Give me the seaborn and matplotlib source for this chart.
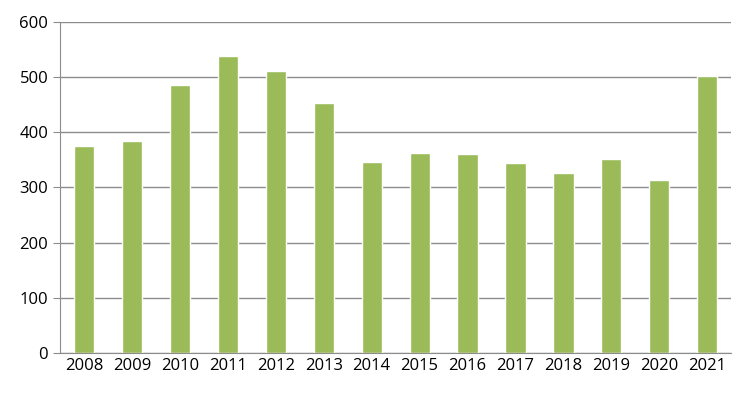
import matplotlib
matplotlib.use("Agg")
import matplotlib.pyplot as plt
import seaborn as sns

years = ["2008", "2009", "2010", "2011", "2012", "2013", "2014",
         "2015", "2016", "2017", "2018", "2019", "2020", "2021"]
values = [375, 385, 485, 538, 511, 453, 347, 363, 360, 344, 327, 351, 313, 502]

sns.set_style("white")
plt.rcParams["font.family"] = ["Open Sans", "DejaVu Sans"]

fig, ax = plt.subplots(figsize=(7.5, 4.01), dpi=100)
fig.subplots_adjust(left=0.08, right=0.975, top=0.945, bottom=0.12)
sns.barplot(x=years, y=values, color="#9BBB59", saturation=1, width=0.42, ax=ax, zorder=2)

ax.set_ylim(0, 600)
ax.set_yticks(range(0, 601, 100))
ax.yaxis.grid(True, color="#8c8c8c", linewidth=1, zorder=0)
ax.set_xlim(-0.5, len(years) - 0.5)
for s in ["top", "right"]:
    ax.spines[s].set_visible(False)
for s in ["left", "bottom"]:
    ax.spines[s].set_color("#8c8c8c")
ax.tick_params(axis="both", labelsize=12, colors="black", length=0)
ax.set_xticks([i - 0.5 for i in range(len(years) + 1)], minor=True)
ax.tick_params(axis="x", which="minor", length=5, color="#8c8c8c")
ax.tick_params(axis="y", length=5, color="#8c8c8c", left=True)

fig.savefig("out.png")
